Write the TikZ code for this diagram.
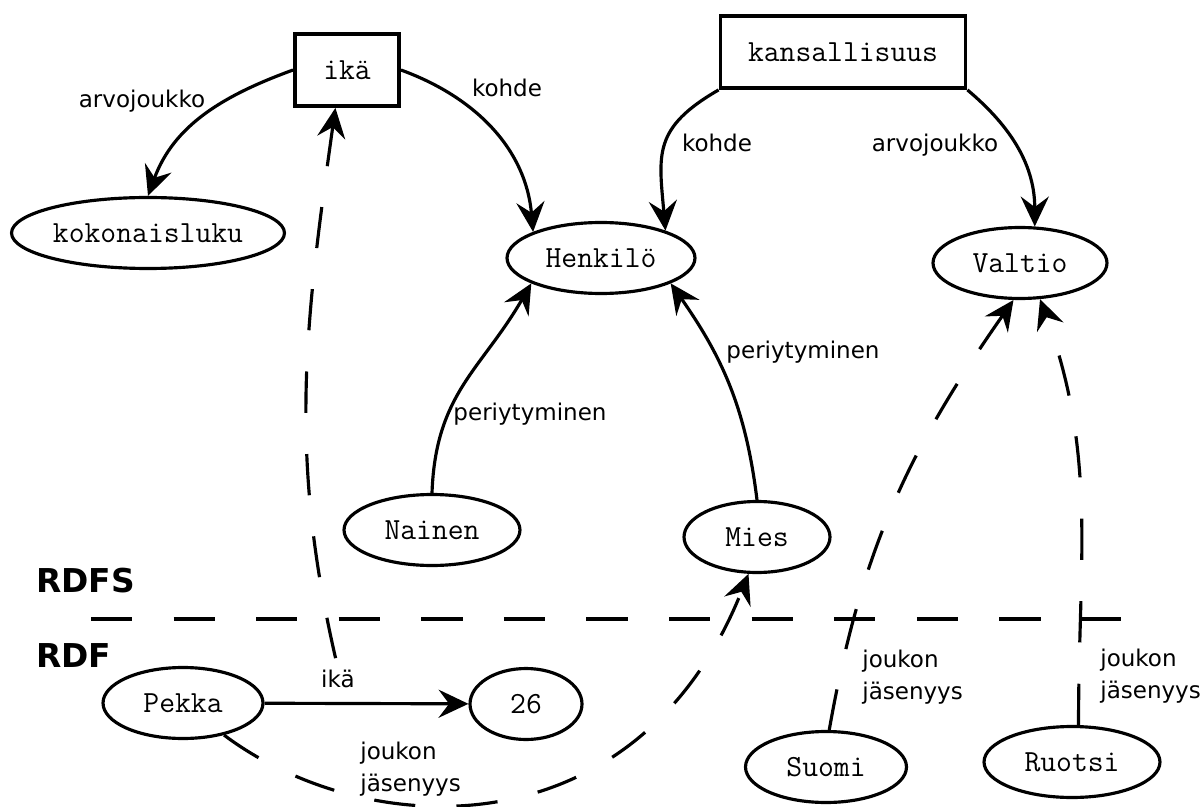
\documentclass[tikz,border=0pt]{standalone}
\usepackage{fontspec}
\usetikzlibrary{shapes.geometric,arrows.meta}
\newfontfamily\selitefont{DejaVu Sans}

\begin{document}
\begin{tikzpicture}[x=0.02cm, y=-0.02cm]

\tikzset{luokka/.style = {draw, ellipse, line width=1.8pt, inner sep=0pt, minimum height=1.42cm, font=\ttfamily\fontsize{17.5}{20}\selectfont}}
\tikzset{ominaisuus/.style = {draw, rectangle, line width=2.2pt, inner sep=0pt, minimum height=1.44cm, font=\ttfamily\fontsize{17.5}{20}\selectfont}}
\tikzset{nuoli/.style = {line width=1.8pt, -{Stealth[length=17pt, width=16pt, inset=6pt]}}}
\tikzset{katko/.style = {nuoli, dash pattern=on 23.5pt off 23.5pt}}
\tikzset{selite/.style = {font=\selitefont\fontsize{13.1}{18}\selectfont, inner sep=0pt, align=left}}
\tikzset{taso/.style = {font=\selitefont\bfseries\fontsize{18.7}{22}\selectfont, inner sep=0pt, anchor=base west}}

\useasboundingbox (0,0) rectangle (1203,807);

% RDFS
\node[ominaisuus, minimum width=2.08cm] (ika) at (347,70) {ikä};
\node[ominaisuus, minimum width=4.9cm] (kans) at (843,52) {kansallisuus};
\node[luokka, minimum width=5.46cm] (kok) at (148,233) {kokonaisluku};
\node[luokka, minimum width=3.76cm] (henk) at (601,258) {Henkilö};
\node[luokka, minimum width=3.48cm] (valt) at (1020,263) {Valtio};
\node[luokka, minimum width=3.52cm] (nain) at (432,530) {Nainen};
\node[luokka, minimum width=2.92cm] (mies) at (757,537) {Mies};

% RDF
\node[luokka, minimum width=3.2cm] (pekka) at (183,703) {Pekka};
\node[luokka, minimum width=2.24cm] (n26) at (526,704) {26};
\node[luokka, minimum width=3.22cm] (suomi) at (826,767) {Suomi};
\node[luokka, minimum width=3.52cm] (ruotsi) at (1072,762) {Ruotsi};

\node[taso] (rdfs) at (36,592) {RDFS};
\node[taso] (rdf) at (36,667) {RDF};
\draw[line width=1.8pt, dash pattern=on 23.5pt off 23.5pt] (91,619) -- (1121,619);

\draw[nuoli] (ika.west) to[out=200, in=70] (kok.north);
\draw[nuoli] (ika.east) to[out=-20, in=95] (henk.159);
\draw[nuoli] (kans.south west) to[out=210, in=95, looseness=1.3] (henk.23);
\draw[nuoli] (kans.south east) to[out=-40, in=90] (valt.68);
\draw[nuoli] (nain.north) to[out=88, in=240, looseness=1.1] (henk.200);
\draw[nuoli] (mies.north) to[out=97, in=-55] (henk.-20);
\draw[nuoli] (pekka) -- node[selite, pos=0.36, above=8pt] (ikasel) {ikä} (n26);

\draw[katko, shorten <=6pt] (ikasel.north) to[out=103, in=-98] (ika.-107);
\draw[katko] (pekka.-38) .. controls +(144,108) and +(-111,279) .. (mies.-103);
\draw[katko] (suomi.85) to[out=80, in=235] (valt.-100);
\draw[katko] (ruotsi.80) to[out=90, in=-70] (valt.-61);

\node[selite, anchor=base] (s1) at (142,108) {arvojoukko};
\node[selite, anchor=base] (s2) at (507,97) {kohde};
\node[selite, anchor=base] (s3) at (717,152) {kohde};
\node[selite, anchor=base] (s4) at (935,152) {arvojoukko};
\node[selite, anchor=base] (s5) at (530,420) {periytyminen};
\node[selite, anchor=base] (s6) at (803,358) {periytyminen};
\node[selite, anchor=north west] (s7) at (360,742) {joukon\\jäsenyys};
\node[selite, anchor=north west] (s8) at (862,650) {joukon\\jäsenyys};
\node[selite, anchor=north west] (s9) at (1100,649) {joukon\\jäsenyys};

\end{tikzpicture}
\end{document}
